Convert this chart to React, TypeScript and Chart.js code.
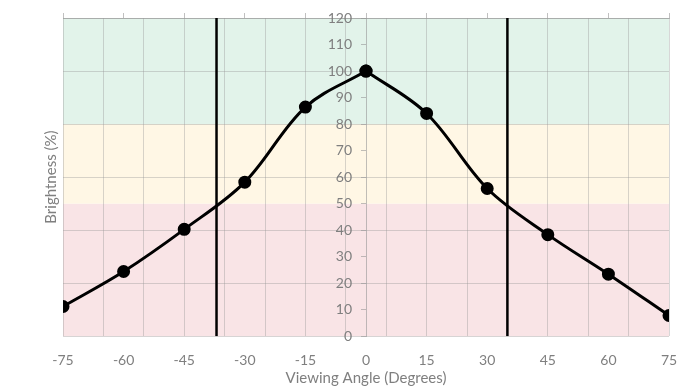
import React, { useEffect, useRef } from "react";
import { Chart, registerables } from "chart.js";

Chart.register(...registerables);

const angles = [-75, -60, -45, -30, -15, 0, 15, 30, 45, 60, 75];
const brightness = [11.2, 24.4, 40.3, 58.1, 86.4, 100, 84.0, 55.7, 38.3, 23.4, 7.8];
const peakIndex = 5;
const cutoffAngles = [-37, 35];
const xTickLabels = [-75, -60, -45, -30, -15, 0, 15, 30, 45, 60, 75];
const xGridAngles = [-75, -65, -55, -45, -35, -25, -15, -5, 5, 15, 25, 35, 45, 55, 65, 75];
const yTickValues = [0, 10, 20, 30, 40, 50, 60, 70, 80, 90, 100, 110, 120];
const bandLimits = [0, 50, 80, 120];
const bandColors = ["rgb(249,228,230)", "rgb(255,247,229)", "rgb(226,243,234)"];

const TEXT = "#7f7f7f";
const GRID = "rgba(150,150,150,0.38)";
const AXIS = "rgba(150,150,150,0.6)";
const FONT = "Lato";

const bandsPlugin = {
  id: "bands",
  beforeDraw(chart: any) {
    const { ctx, chartArea } = chart;
    const y = chart.scales.y;
    ctx.save();
    for (let i = 0; i < bandColors.length; i++) {
      const top = y.getPixelForValue(bandLimits[i + 1]);
      const bottom = y.getPixelForValue(bandLimits[i]);
      ctx.fillStyle = bandColors[i];
      ctx.fillRect(chartArea.left, top, chartArea.right - chartArea.left, bottom - top);
    }
    ctx.restore();
  },
};

export default function App() {
  const ref = useRef<HTMLCanvasElement | null>(null);
  useEffect(() => {
    if (!ref.current) return;
    const points = angles.map((a, i) => ({ x: a, y: brightness[i] }));
    const curveStyle = {
      type: "line" as const,
      borderColor: "#000",
      backgroundColor: "#000",
      borderWidth: 3,
      pointRadius: 5,
      pointHoverRadius: 5,
      tension: 0.35,
      xAxisID: "x",
      yAxisID: "y",
      order: 1,
    };
    const cutoffSets = cutoffAngles.map((a) => ({
      type: "line" as const,
      data: [
        { x: a, y: 0 },
        { x: a, y: 120 },
      ],
      borderColor: "#000",
      borderWidth: 2.5,
      pointRadius: 0,
      xAxisID: "x",
      yAxisID: "y",
      order: 2,
    }));
    const chart = new Chart(ref.current, {
      type: "line",
      data: {
        datasets: [
          { ...curveStyle, data: points.slice(0, peakIndex + 1) },
          { ...curveStyle, data: points.slice(peakIndex) },
          ...cutoffSets,
        ] as any,
      },
      options: {
        animation: false,
        responsive: true,
        maintainAspectRatio: false,
        layout: { padding: { left: 40, right: 26, top: 13, bottom: 2 } },
        plugins: { legend: { display: false }, tooltip: { enabled: false } },
        scales: {
          x: {
            type: "linear",
            position: "bottom",
            min: -75,
            max: 75,
            afterBuildTicks: (axis: any) => {
              axis.ticks = xTickLabels.map((v) => ({ value: v }));
            },
            ticks: { color: TEXT, font: { family: FONT, size: 14 }, padding: 0, maxRotation: 0, autoSkip: false },
            grid: { display: false, drawTicks: true, tickLength: 16 },
            border: { display: false },
            title: {
              display: true,
              text: "Viewing Angle (Degrees)",
              color: TEXT,
              font: { family: FONT, size: 15 },
              padding: { top: 0, bottom: 1 },
            },
          },
          xTop: {
            type: "linear",
            position: "top",
            min: -75,
            max: 75,
            afterBuildTicks: (axis: any) => {
              axis.ticks = xTickLabels.map((v) => ({ value: v }));
            },
            ticks: { display: false },
            grid: { color: "transparent", tickColor: AXIS, tickLength: 5, drawOnChartArea: false },
            border: { display: true, color: AXIS },
          },
          xGrid: {
            type: "linear",
            position: "bottom",
            min: -75,
            max: 75,
            afterBuildTicks: (axis: any) => {
              axis.ticks = xGridAngles.map((v) => ({ value: v }));
            },
            ticks: { display: false },
            grid: { color: GRID, drawTicks: false },
            border: { display: false },
          },
          y: {
            type: "linear",
            position: { x: 0 } as any,
            min: 0,
            max: 120,
            afterBuildTicks: (axis: any) => {
              axis.ticks = yTickValues.map((v) => ({ value: v }));
            },
            ticks: {
              color: TEXT,
              font: { family: FONT, size: 14 },
              callback: (v: any) => v + "\u2002\u2002",
            },
            grid: {
              color: (c: any) => (c.tick && c.tick.value % 20 === 0 ? GRID : "transparent"),
              tickColor: AXIS,
              tickLength: 5,
            },
            border: { display: true, color: AXIS },
          },
          yTitle: {
            type: "linear",
            position: "left",
            min: 0,
            max: 120,
            ticks: { display: false },
            grid: { display: false, drawTicks: false },
            border: { display: false },
            title: {
              display: true,
              text: "Brightness (%)",
              color: TEXT,
              font: { family: FONT, size: 15 },
              padding: { top: 2, bottom: 3 },
            },
          },
        },
      },
      plugins: [bandsPlugin],
    });
    return () => chart.destroy();
  }, []);
  return (
    <div style={{ position: "fixed", left: 0, top: 0, width: 695, height: 390 }}>
      <canvas ref={ref} />
    </div>
  );
}
